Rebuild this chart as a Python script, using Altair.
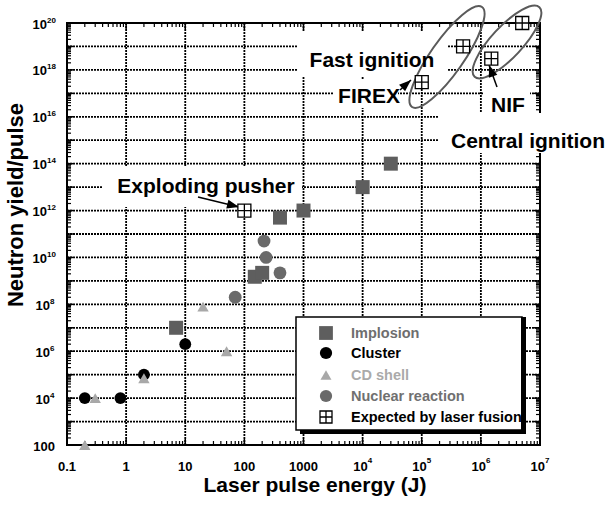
import altair as alt
import pandas as pd

# ---------------- data ----------------
implosion_energy = [7, 150, 200, 400, 1000, 1e4, 3e4]
implosion_yield = [1e7, 1.5e9, 2.2e9, 5e11, 1e12, 1e13, 1e14]
cluster_energy = [0.2, 0.8, 2, 10]
cluster_yield = [1e4, 1e4, 1e5, 2e6]
cdshell_energy = [0.2, 0.3, 2, 20, 50]
cdshell_yield = [100, 1e4, 7e4, 8e7, 1e6]
nuclear_energy = [70, 215, 233, 400]
nuclear_yield = [2e8, 5e10, 1e10, 2.2e9]
expected_energy = [100, 1e5, 5e5, 1.5e6, 5e6]
expected_yield = [1e12, 3e17, 1e19, 3e18, 1e20]

series_names = ["Implosion", "Cluster", "CD shell", "Nuclear reaction", "Expected by laser fusion"]
series_colors = ["#5e5e5e", "#000000", "#a8a8a8", "#6a6a6a", "#000000"]
text_colors = ["#6e6e6e", "#000000", "#aaaaaa", "#707070", "#000000"]

x_plain_ticks = [0.1, 1, 10, 100, 1000]
x_plain_labels = ["0.1", "1", "10", "100", "1000"]
x_exp_ticks = [1e4, 1e5, 1e6, 1e7]
x_exp_labels = ["4", "5", "6", "7"]
y_plain_ticks = [100]
y_plain_labels = ["100"]
y_exp1_ticks = [1e4, 1e6, 1e8]
y_exp1_labels = ["4", "6", "8"]
y_exp2_ticks = [1e10, 1e12, 1e14, 1e16, 1e18, 1e20]
y_exp2_labels = ["10", "12", "14", "16", "18", "20"]

x_grid_values = [10.0 ** d for d in range(0, 7)]
y_grid_values = [10.0 ** d for d in range(3, 20)]
x_decades = [10.0 ** d for d in range(-1, 8)]
y_decades = [10.0 ** d for d in range(2, 21)]
x_minor = [k * 10.0 ** d for d in range(-1, 7) for k in range(2, 10)]
y_minor = [k * 10.0 ** d for d in range(2, 20) for k in range(2, 10)]

annotation_texts = ["Exploding pusher", "Fast ignition", "FIREX", "NIF", "Central ignition"]

# ---------------- layout ----------------
W, H = 473, 422
FONT = "Liberation Sans"
XMIN, XMAX, YMIN, YMAX = 0.1, 1e7, 100, 1e20

xs = alt.Scale(type="log", domain=[XMIN, XMAX], nice=False)
ys = alt.Scale(type="log", domain=[YMIN, YMAX], nice=False)

one = pd.DataFrame({"a": [0]})
layers = []

# grid lines (dotted)
layers.append(alt.Chart(pd.DataFrame({"gx": x_grid_values})).mark_rule(
    color="black", strokeWidth=1.8, strokeDash=[2, 1]).encode(x=alt.X("gx:Q", scale=xs, axis=None)))
layers.append(alt.Chart(pd.DataFrame({"gy": y_grid_values})).mark_rule(
    color="black", strokeWidth=1.8, strokeDash=[2, 1]).encode(y=alt.Y("gy:Q", scale=ys, axis=None)))

# inward ticks on the four sides
tick_sets = [
    ("xm", x_minor, 4, 1.2), ("xd", x_decades, 6, 1.5),
]
for name, vals, ln, th in tick_sets:
    d = pd.DataFrame({name: vals})
    layers.append(alt.Chart(d).mark_rule(color="black", strokeWidth=th).encode(
        x=alt.X(f"{name}:Q", scale=xs, axis=None), y=alt.value(H - ln), y2=alt.value(H)))
    layers.append(alt.Chart(d).mark_rule(color="black", strokeWidth=th).encode(
        x=alt.X(f"{name}:Q", scale=xs, axis=None), y=alt.value(0), y2=alt.value(ln)))
for name, vals, ln, th in [("ym", y_minor, 4, 1.2), ("yd", y_decades, 6, 1.5)]:
    d = pd.DataFrame({name: vals})
    layers.append(alt.Chart(d).mark_rule(color="black", strokeWidth=th).encode(
        y=alt.Y(f"{name}:Q", scale=ys, axis=None), x=alt.value(0), x2=alt.value(ln)))
    layers.append(alt.Chart(d).mark_rule(color="black", strokeWidth=th).encode(
        y=alt.Y(f"{name}:Q", scale=ys, axis=None), x=alt.value(W - ln), x2=alt.value(W)))

# plot frame: four thin black bars
frame_bars = [(-1, 1, -1, H + 1), (W - 1, W + 1, -1, H + 1), (-1, W + 1, -1, 1), (-1, W + 1, H - 1, H + 1)]
for (x0, x1, y0, y1) in frame_bars:
    layers.append(alt.Chart(one).mark_rect(color="black").encode(
        x=alt.value(x0), x2=alt.value(x1), y=alt.value(y0), y2=alt.value(y1)))

# white boxes behind annotations (plot pixel coords x0, x1, y0, y1)
boxes = [(36, 235, 143, 184), (230, 380, 8, 54), (266, 331, 56, 85),
         (416, 463, 55, 90), (371, 540, 90, 130)]
for (x0, x1, y0, y1) in boxes:
    layers.append(alt.Chart(one).mark_rect(color="white").encode(
        x=alt.value(x0), x2=alt.value(x1), y=alt.value(y0), y2=alt.value(y1)))

# legend box with shadow
layers.append(alt.Chart(one).mark_rect(color="black").encode(
    x=alt.value(233), x2=alt.value(459), y=alt.value(298), y2=alt.value(411)))
layers.append(alt.Chart(one).mark_rect(fill="white", stroke="black", strokeWidth=1.5).encode(
    x=alt.value(229), x2=alt.value(455), y=alt.value(294), y2=alt.value(407)))

# ellipses (custom symbol shape)
def ellipse_path(q):
    c = 0.5523
    cq = c * q
    return (f"M1,0 C1,{cq:.4f} {c},{q:.4f} 0,{q:.4f} "
            f"C{-c},{q:.4f} -1,{cq:.4f} -1,0 "
            f"C-1,{-cq:.4f} {-c},{-q:.4f} 0,{-q:.4f} "
            f"C{c},{-q:.4f} 1,{-cq:.4f} 1,0 Z")

ellipses = [(380, 34, 61, 16.5, 305), (440, 19, 47.5, 15.5, 313)]
for (cx, cy, a, b, ang) in ellipses:
    layers.append(alt.Chart(one).mark_point(
        shape=ellipse_path(b / a), size=(2 * a) ** 2, filled=False,
        stroke="#5a5a5a", strokeWidth=2, opacity=1, angle=ang).encode(
        x=alt.value(cx), y=alt.value(cy)))

# arrows: (x_start, y_start, x_tip, y_tip, angle)
arrow_head = "M0,0 L-2,-0.75 L-2,0.75 Z"
arrows = [(131, 174, 172, 184, 14), (333, 67, 344, 57, 318), (430, 64, 422, 42, 250)]
for (xa, ya, xb, yb, ang) in arrows:
    layers.append(alt.Chart(one).mark_rule(color="black", strokeWidth=1.5).encode(
        x=alt.value(xa), y=alt.value(ya), x2=alt.value(xb), y2=alt.value(yb)))
    layers.append(alt.Chart(one).mark_point(
        shape=arrow_head, size=144, filled=True, color="black", opacity=1, angle=ang).encode(
        x=alt.value(xb), y=alt.value(yb)))

# data points
cross_box = "M-1,-1 L1,-1 L1,1 L-1,1 Z M0,-1 L0,1 M-1,0 L1,0"
series = [
    (implosion_energy, implosion_yield, "square", 196, series_colors[0]),
    (cluster_energy, cluster_yield, "circle", 140, series_colors[1]),
    (cdshell_energy, cdshell_yield, "triangle-up", 130, series_colors[2]),
    (nuclear_energy, nuclear_yield, "circle", 165, series_colors[3]),
]
for (xe, ye, shp, sz, col) in series:
    df = pd.DataFrame({"energy": xe, "yld": ye})
    layers.append(alt.Chart(df).mark_point(shape=shp, size=sz, filled=True, color=col,
                                           opacity=1).encode(
        x=alt.X("energy:Q", scale=xs, axis=None), y=alt.Y("yld:Q", scale=ys, axis=None)))
dfe = pd.DataFrame({"energy": expected_energy, "yld": expected_yield})
layers.append(alt.Chart(dfe).mark_point(shape=cross_box, size=169, fill="white", filled=True,
                                        stroke="black", strokeWidth=1.3, opacity=1).encode(
    x=alt.X("energy:Q", scale=xs, axis=None), y=alt.Y("yld:Q", scale=ys, axis=None)))

# legend entries
legend_shapes = ["square", "circle", "triangle-up", "circle", cross_box]
legend_sizes = [190, 150, 120, 150, 144]
legend_rows = [310, 330, 352, 373, 394]
for i, name in enumerate(series_names):
    if i == 4:
        sym = alt.Chart(one).mark_point(shape=cross_box, size=legend_sizes[i], fill="white",
                                        filled=True, stroke="black", strokeWidth=1.3, opacity=1)
    else:
        sym = alt.Chart(one).mark_point(shape=legend_shapes[i], size=legend_sizes[i],
                                        filled=True, color=series_colors[i], opacity=1)
    layers.append(sym.encode(x=alt.value(259), y=alt.value(legend_rows[i])))
    layers.append(alt.Chart(one).mark_text(text=name, font=FONT, fontWeight="bold", fontSize=14.5,
                                           color=text_colors[i], align="left",
                                           baseline="middle").encode(
        x=alt.value(284), y=alt.value(legend_rows[i] + 1)))
layers.append(alt.Chart(one).mark_rect(color="black").encode(
    x=alt.value(454), x2=alt.value(459), y=alt.value(294), y2=alt.value(411)))

# annotation texts (center x, baseline y)
ann_pos = [(139, 170), (305, 44), (302, 80), (441, 89), (461, 125)]
for txt, (tx, ty) in zip(annotation_texts, ann_pos):
    layers.append(alt.Chart(one).mark_text(text=txt, font=FONT, fontWeight="bold", fontSize=21,
                                           color="black", align="center",
                                           baseline="alphabetic").encode(
        x=alt.value(tx), y=alt.value(ty)))

# tick labels
TF = 13
EF = 8
XB = H + 26
dxp = pd.DataFrame({"lx": x_plain_ticks, "t": x_plain_labels})
layers.append(alt.Chart(dxp).mark_text(font=FONT, fontWeight="bold", fontSize=TF, align="center",
                                       baseline="alphabetic").encode(
    x=alt.X("lx:Q", scale=xs, axis=None), y=alt.value(XB), text="t:N"))
dxe = pd.DataFrame({"lx": x_exp_ticks, "t": x_exp_labels})
layers.append(alt.Chart(dxe).mark_text(text="10", font=FONT, fontWeight="bold", fontSize=TF,
                                       align="right", baseline="alphabetic", dx=5).encode(
    x=alt.X("lx:Q", scale=xs, axis=None), y=alt.value(XB)))
layers.append(alt.Chart(dxe).mark_text(font=FONT, fontWeight="bold", fontSize=EF,
                                       align="left", baseline="alphabetic", dx=5).encode(
    x=alt.X("lx:Q", scale=xs, axis=None), y=alt.value(XB - 8), text="t:N"))

dyp = pd.DataFrame({"ly": y_plain_ticks, "t": y_plain_labels})
layers.append(alt.Chart(dyp).mark_text(font=FONT, fontWeight="bold", fontSize=TF, align="right",
                                       baseline="alphabetic", dy=5.5).encode(
    y=alt.Y("ly:Q", scale=ys, axis=None), x=alt.value(-12), text="t:N"))
for ticks, labs, xr in [(y_exp1_ticks, y_exp1_labels, -17), (y_exp2_ticks, y_exp2_labels, -20)]:
    d = pd.DataFrame({"ly": ticks, "t": labs})
    layers.append(alt.Chart(d).mark_text(text="10", font=FONT, fontWeight="bold", fontSize=TF,
                                         align="right", baseline="alphabetic", dy=5.5).encode(
        y=alt.Y("ly:Q", scale=ys, axis=None), x=alt.value(xr)))
    layers.append(alt.Chart(d).mark_text(font=FONT, fontWeight="bold", fontSize=EF,
                                         align="left", baseline="alphabetic", dy=-0.5).encode(
        y=alt.Y("ly:Q", scale=ys, axis=None), x=alt.value(xr), text="t:N"))

# axis titles
layers.append(alt.Chart(one).mark_text(text="Laser pulse energy (J)", font=FONT, fontWeight="bold",
                                       fontSize=21, align="center", baseline="alphabetic").encode(
    x=alt.value(248), y=alt.value(469)))
layers.append(alt.Chart(one).mark_text(text="Neutron yield/pulse", font=FONT, fontWeight="bold",
                                       fontSize=22, align="center", baseline="alphabetic",
                                       angle=270).encode(
    x=alt.value(-44), y=alt.value(182)))

chart = alt.layer(*layers).properties(
    width=W, height=H,
    autosize=alt.AutoSizeParams(type="none"),
    padding={"left": 67, "top": 23, "right": 67, "bottom": 61},
    background="white",
).configure_view(stroke="black", strokeWidth=2)

chart.save("out.html", embed_options={"renderer": "svg", "actions": False})
